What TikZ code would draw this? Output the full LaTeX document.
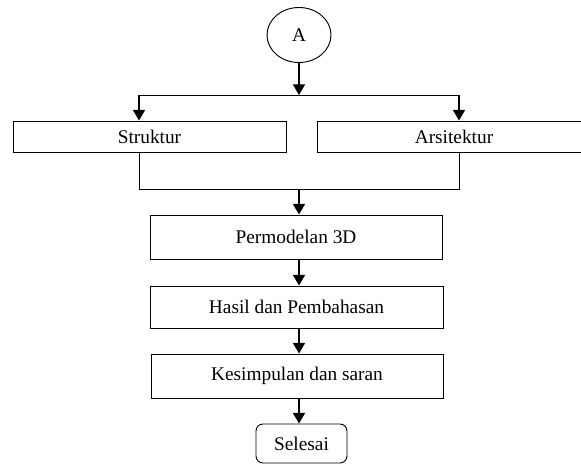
\documentclass[tikz,border=0pt]{standalone}
\usepackage{fontspec}
\setmainfont{Liberation Serif}
\usetikzlibrary{shapes.geometric,arrows.meta}

\begin{document}
\begin{tikzpicture}[x=0.03cm,y=-0.03cm,
    font=\fontsize{16.5}{19}\selectfont,
    box/.style={draw,line width=0.8pt,minimum height=#1},
    box/.default=0.93cm,
    arr/.style={line width=1.4pt,-{Triangle[length=3.2mm,width=3.6mm]}},
    link/.style={line width=0.8pt}]
      \useasboundingbox (0,0) rectangle (581,465);
      \clip (0,0) rectangle (581,465);

      \node[draw,ellipse,line width=0.8pt,minimum width=1.92cm,minimum height=1.65cm] (a) at (299,35) {A};

      \coordinate (split) at (299,95);
      \coordinate (lsplit) at (139,95);
      \coordinate (rsplit) at (459,95);

      \node[box,minimum width=8.19cm] (struktur) at (149.5,136.5) {Struktur};
      \node[box,minimum width=8.22cm] (arsitektur) at (454,136.5) {Arsitektur};

      \coordinate (join) at (299,189);
      \coordinate (ljoin) at (139,189);
      \coordinate (rjoin) at (459,189);

      \node[box=1.32cm,minimum width=8.76cm] (model) at (296,237) {Permodelan 3D};
      \node[box=1.26cm,minimum width=8.79cm] (hasil) at (296.5,307) {Hasil dan Pembahasan};
      \node[box=1.32cm,minimum width=8.76cm] (simpulan) at (297,376) {Kesimpulan dan saran};
      \node[box=1.17cm,minimum width=2.73cm,rounded corners=6pt] (selesai) at (301.5,443.5) {Selesai};

      \draw[arr] (a) -- (split);
      \draw[link] (lsplit) -- (rsplit);
      \draw[arr] (lsplit) -- (struktur.north -| lsplit);
      \draw[arr] (rsplit) -- (arsitektur.north -| rsplit);

      \draw[link] (struktur.south -| ljoin) -- (ljoin) -- (rjoin) -- (arsitektur.south -| rjoin);
      \draw[arr] (join) -- (model.north -| join);
      \draw[arr] (model.south -| join) -- (hasil.north -| join);
      \draw[arr] (hasil.south -| join) -- (simpulan.north -| join);
      \draw[arr] (simpulan.south -| join) -- (selesai.north -| join);
    \end{tikzpicture}
\end{document}
